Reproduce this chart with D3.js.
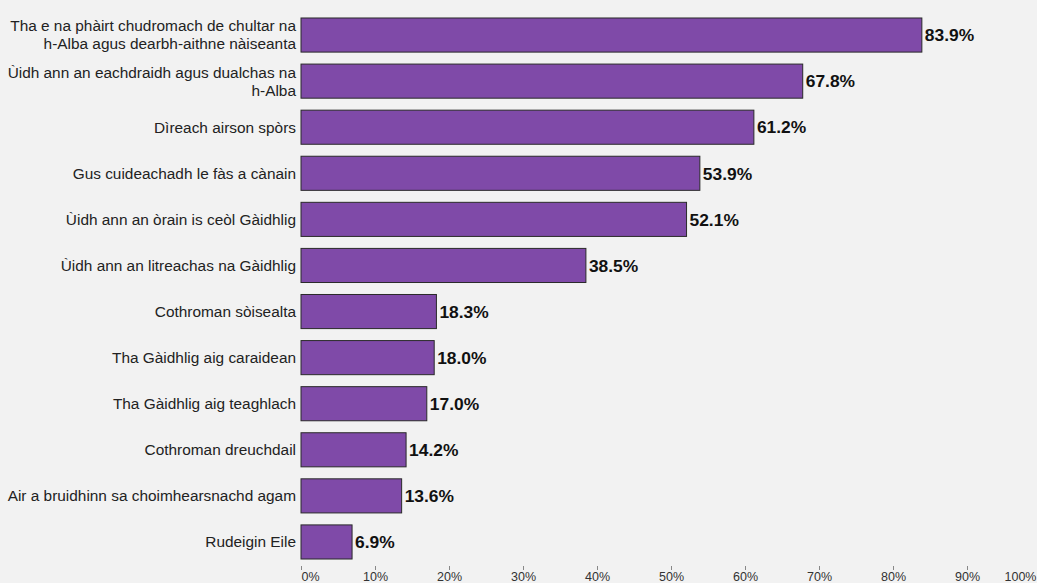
<!DOCTYPE html>
<html>
<head>
<meta charset="utf-8">
<script src="https://cdn.jsdelivr.net/npm/d3@7"></script>
<style>
  html, body { margin: 0; padding: 0; background: #f2f2f2; }
  svg { display: block; font-family: "Liberation Sans", Arial, sans-serif; }
</style>
</head>
<body>
<svg id="chart" width="1037" height="583"></svg>
<script>
const categories = [
  ["Tha e na phàirt chudromach de chultar na", "h-Alba agus dearbh-aithne nàiseanta"],
  ["Ùidh ann an eachdraidh agus dualchas na", "h-Alba"],
  ["Dìreach airson spòrs"],
  ["Gus cuideachadh le fàs a cànain"],
  ["Ùidh ann an òrain is ceòl Gàidhlig"],
  ["Ùidh ann an litreachas na Gàidhlig"],
  ["Cothroman sòisealta"],
  ["Tha Gàidhlig aig caraidean"],
  ["Tha Gàidhlig aig teaghlach"],
  ["Cothroman dreuchdail"],
  ["Air a bruidhinn sa choimhearsnachd agam"],
  ["Rudeigin Eile"]
];
const values = [83.9, 67.8, 61.2, 53.9, 52.1, 38.5, 18.3, 18.0, 17.0, 14.2, 13.6, 6.9];
const tickValues = [0, 10, 20, 30, 40, 50, 60, 70, 80, 90, 100];
const tickLabels = ["0%", "10%", "20%", "30%", "40%", "50%", "60%", "70%", "80%", "90%", "100%"];

const W = 1037, H = 583;
const svg = d3.select("#chart");
svg.append("rect").attr("width", W).attr("height", H).attr("fill", "#f2f2f2");

const x = d3.scaleLinear().domain([0, 100]).range([301, 1041]);
const idx = d3.range(values.length);
const y = d3.scaleBand().domain(idx).range([12, 565]).paddingInner(0.26).paddingOuter(0.13);

// bars
svg.append("g").selectAll("rect").data(idx).join("rect")
  .attr("x", x(0))
  .attr("y", i => y(i))
  .attr("width", i => x(values[i]) - x(0))
  .attr("height", y.bandwidth())
  .attr("fill", "#7f4aa8")
  .attr("stroke", "#2a2a2a")
  .attr("stroke-width", 1);

// value labels
svg.append("g").selectAll("text").data(idx).join("text")
  .attr("x", i => x(values[i]) + 3)
  .attr("y", i => y(i) + y.bandwidth() / 2)
  .attr("dy", "0.36em")
  .attr("font-size", 17.4)
  .attr("font-weight", "bold")
  .attr("fill", "#111")
  .text(i => values[i].toFixed(1) + "%");

// category labels
const catG = svg.append("g");
idx.forEach(i => {
  const lines = categories[i];
  const cy = y(i) + y.bandwidth() / 2;
  const lh = 18;
  const t = catG.append("text")
    .attr("text-anchor", "end")
    .attr("font-size", 15.4)
    .attr("fill", "#222");
  lines.forEach((ln, k) => {
    t.append("tspan")
      .attr("x", 296)
      .attr("y", cy + (k - (lines.length - 1) / 2) * lh)
      .attr("dy", "0.35em")
      .text(ln);
  });
});

// x axis
const axis = d3.axisBottom(x)
  .tickValues(tickValues)
  .tickSize(4)
  .tickFormat((d, i) => tickLabels[i]);
const ag = svg.append("g").attr("transform", "translate(0,566)").call(axis);
ag.select(".domain").remove();
ag.selectAll(".tick line").attr("stroke", "#888");
ag.selectAll(".tick text")
  .attr("font-size", 12.5)
  .attr("font-family", "'Liberation Sans', Arial, sans-serif")
  .attr("fill", "#333")
  .attr("y", 6)
  .attr("dy", "0.71em");
// keep first and last labels inside the visible area
ag.selectAll(".tick").filter(d => d === tickValues[0]).select("text")
  .attr("text-anchor", "start");
ag.selectAll(".tick").filter(d => d === tickValues[tickValues.length - 1]).select("text")
  .attr("text-anchor", "end")
  .attr("x", W - x(100) - 1);
</script>
</body>
</html>
